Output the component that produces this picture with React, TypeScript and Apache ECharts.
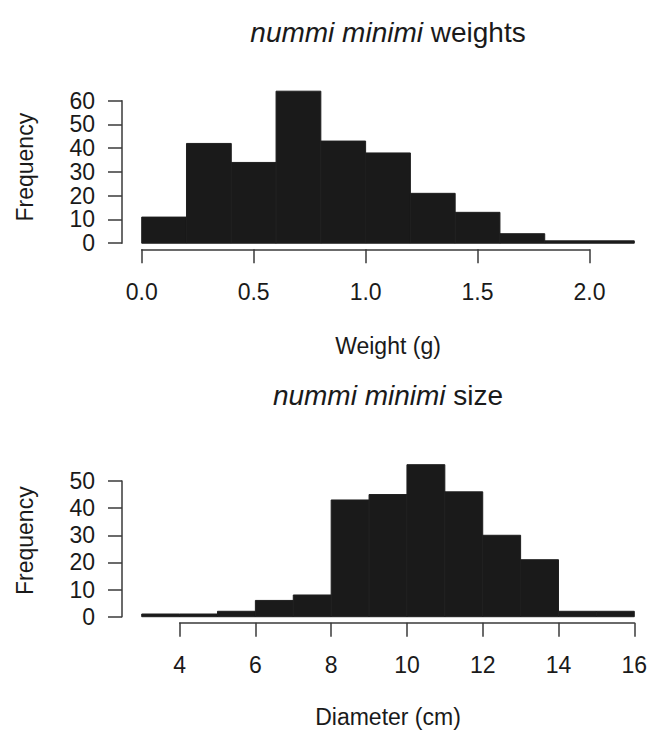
import React, { useEffect, useRef } from "react";
import * as echarts from "echarts";

// ---- data ----
const weightBreaks = [0, 0.2, 0.4, 0.6, 0.8, 1.0, 1.2, 1.4, 1.6, 1.8, 2.0, 2.2];
const weightCounts = [11, 42, 34, 64, 43, 38, 21, 13, 4, 1, 1];
const weightTicks = [0, 0.5, 1.0, 1.5, 2.0];
const weightFreqTicks = [0, 10, 20, 30, 40, 50, 60];

const diameterBreaks = [3, 4, 5, 6, 7, 8, 9, 10, 11, 12, 13, 14, 15, 16];
const diameterCounts = [1, 1, 2, 6, 8, 43, 45, 56, 46, 30, 21, 2, 2];
const diameterTicks = [4, 6, 8, 10, 12, 14, 16];
const diameterFreqTicks = [0, 10, 20, 30, 40, 50];

const titles = [
  { italic: "nummi minimi", rest: " weights" },
  { italic: "nummi minimi", rest: " size" },
];
const xTitles = ["Weight (g)", "Diameter (cm)"];
const yTitle = "Frequency";

// ---- layout ----
const W = 662;
const H = 733;
const PLOT_LEFT = 122;
const PLOT_W = 532;
const PLOT_H = 164.2;
const PLOT_TOPS = [85.1, 458.6];
const TITLE_Y = [32, 395];
const X_NAME_GAP = [85, 83];
const FONT = "'Liberation Sans', Arial, Helvetica, sans-serif";
const TXT = "#1a1a1a";
const AXIS_COLOR = "#3a3a3a";
const LABEL_SIZE = 23;
const TITLE_SIZE = 28;

function buildPanel(
  idx: number,
  breaks: number[],
  counts: number[],
  xTicks: number[],
  yTicks: number[],
  xFmt: (v: number) => string
) {
  const top = PLOT_TOPS[idx];
  const bottom = top + PLOT_H;
  const xmin = breaks[0];
  const xmax = breaks[breaks.length - 1];
  const padX = (xmax - xmin) * 0.04;
  const ymax = Math.max(...counts);
  const padY = ymax * 0.04;
  const ux0 = xmin - padX;
  const ux1 = xmax + padX;
  const uy0 = -padY;
  const uy1 = ymax + padY;
  const xPix = (v: number) => PLOT_LEFT + ((v - ux0) / (ux1 - ux0)) * PLOT_W;
  const yPix = (v: number) => top + ((uy1 - v) / (uy1 - uy0)) * PLOT_H;

  const xt0 = xTicks[0];
  const xt1 = xTicks[xTicks.length - 1];
  const yt0 = yTicks[0];
  const yt1 = yTicks[yTicks.length - 1];

  const g = idx * 3;
  const grids = [
    { left: PLOT_LEFT, top, width: PLOT_W, height: PLOT_H, outerBoundsMode: "none" },
    {
      left: PLOT_LEFT,
      top: yPix(yt1),
      width: 1,
      height: yPix(yt0) - yPix(yt1),
      outerBoundsMode: "none",
    },
    {
      left: xPix(xt0),
      top: bottom - 1,
      width: xPix(xt1) - xPix(xt0),
      height: 1,
      outerBoundsMode: "none",
    },
  ];
  const axisLineStyle = { color: AXIS_COLOR, width: 1.5 };
  const labelStyle = { color: TXT, fontSize: LABEL_SIZE, fontFamily: FONT };
  const xAxes = [
    {
      gridIndex: g,
      type: "value",
      min: ux0,
      max: ux1,
      axisLine: { show: false },
      axisTick: { show: false },
      axisLabel: { show: false },
      splitLine: { show: false },
      name: xTitles[idx],
      nameLocation: "middle",
      nameGap: X_NAME_GAP[idx],
      nameTextStyle: labelStyle,
    },
    { gridIndex: g + 1, type: "value", min: 0, max: 1, show: false },
    {
      gridIndex: g + 2,
      type: "value",
      position: "bottom",
      min: xt0,
      max: xt1,
      interval: xTicks[1] - xTicks[0],
      axisLine: { show: true, lineStyle: axisLineStyle },
      axisTick: { show: true, length: 14, lineStyle: axisLineStyle },
      axisLabel: { ...labelStyle, margin: 31, formatter: xFmt, showMinLabel: true, showMaxLabel: true },
      splitLine: { show: false },
    },
  ];
  const yAxes = [
    {
      gridIndex: g,
      type: "value",
      min: uy0,
      max: uy1,
      axisLine: { show: false },
      axisTick: { show: false },
      axisLabel: { show: false },
      splitLine: { show: false },
      name: yTitle,
      nameLocation: "middle",
      nameRotate: 90,
      nameGap: 86,
      nameTextStyle: labelStyle,
    },
    {
      gridIndex: g + 1,
      type: "value",
      position: "left",
      min: yt0,
      max: yt1,
      interval: yTicks[1] - yTicks[0],
      axisLine: { show: true, lineStyle: axisLineStyle },
      axisTick: { show: true, length: 14, lineStyle: axisLineStyle },
      axisLabel: { ...labelStyle, margin: 27, showMinLabel: true, showMaxLabel: true },
      splitLine: { show: false },
    },
    { gridIndex: g + 2, type: "value", min: 0, max: 1, show: false },
  ];
  const data = counts.map((c, i) => [breaks[i], breaks[i + 1], c]);
  const series = {
    type: "custom",
    xAxisIndex: g,
    yAxisIndex: g,
    data,
    encode: { x: [0, 1], y: 2 },
    renderItem: (_p: any, api: any) => {
      const a = api.coord([api.value(0), api.value(2)]);
      const b = api.coord([api.value(1), 0]);
      return {
        type: "rect",
        shape: { x: a[0], y: a[1], width: b[0] - a[0], height: b[1] - a[1] },
        style: { fill: "#1a1a1a", stroke: "#1f1f1f", lineWidth: 1 },
      };
    },
  };
  const t = titles[idx];
  const title = {
    type: "text",
    x: PLOT_LEFT + PLOT_W / 2,
    y: TITLE_Y[idx],
    style: {
      text: `{i|${t.italic}}{n|${t.rest}}`,
      align: "center",
      verticalAlign: "middle",
      fill: TXT,
      fontSize: TITLE_SIZE,
      fontFamily: FONT,
      rich: {
        i: { fontStyle: "italic", fontSize: TITLE_SIZE, fontFamily: FONT, fill: TXT },
        n: { fontSize: TITLE_SIZE, fontFamily: FONT, fill: TXT },
      },
    },
  };
  return { grids, xAxes, yAxes, series, title };
}

export default function App() {
  const ref = useRef<HTMLDivElement>(null);
  useEffect(() => {
    if (!ref.current) return;
    const chart = echarts.init(ref.current, null, { renderer: "svg" });
    const p1 = buildPanel(0, weightBreaks, weightCounts, weightTicks, weightFreqTicks, (v) =>
      v.toFixed(1)
    );
    const p2 = buildPanel(1, diameterBreaks, diameterCounts, diameterTicks, diameterFreqTicks, (v) =>
      String(v)
    );
    chart.setOption({
      animation: false,
      backgroundColor: "#ffffff",
      grid: [...p1.grids, ...p2.grids],
      xAxis: [...p1.xAxes, ...p2.xAxes],
      yAxis: [...p1.yAxes, ...p2.yAxes],
      series: [p1.series, p2.series],
      graphic: [p1.title, p2.title],
    } as any);
    return () => chart.dispose();
  }, []);
  return (
    <div
      ref={ref}
      style={{ position: "fixed", left: 0, top: 0, width: W, height: H, background: "#fff" }}
    />
  );
}
